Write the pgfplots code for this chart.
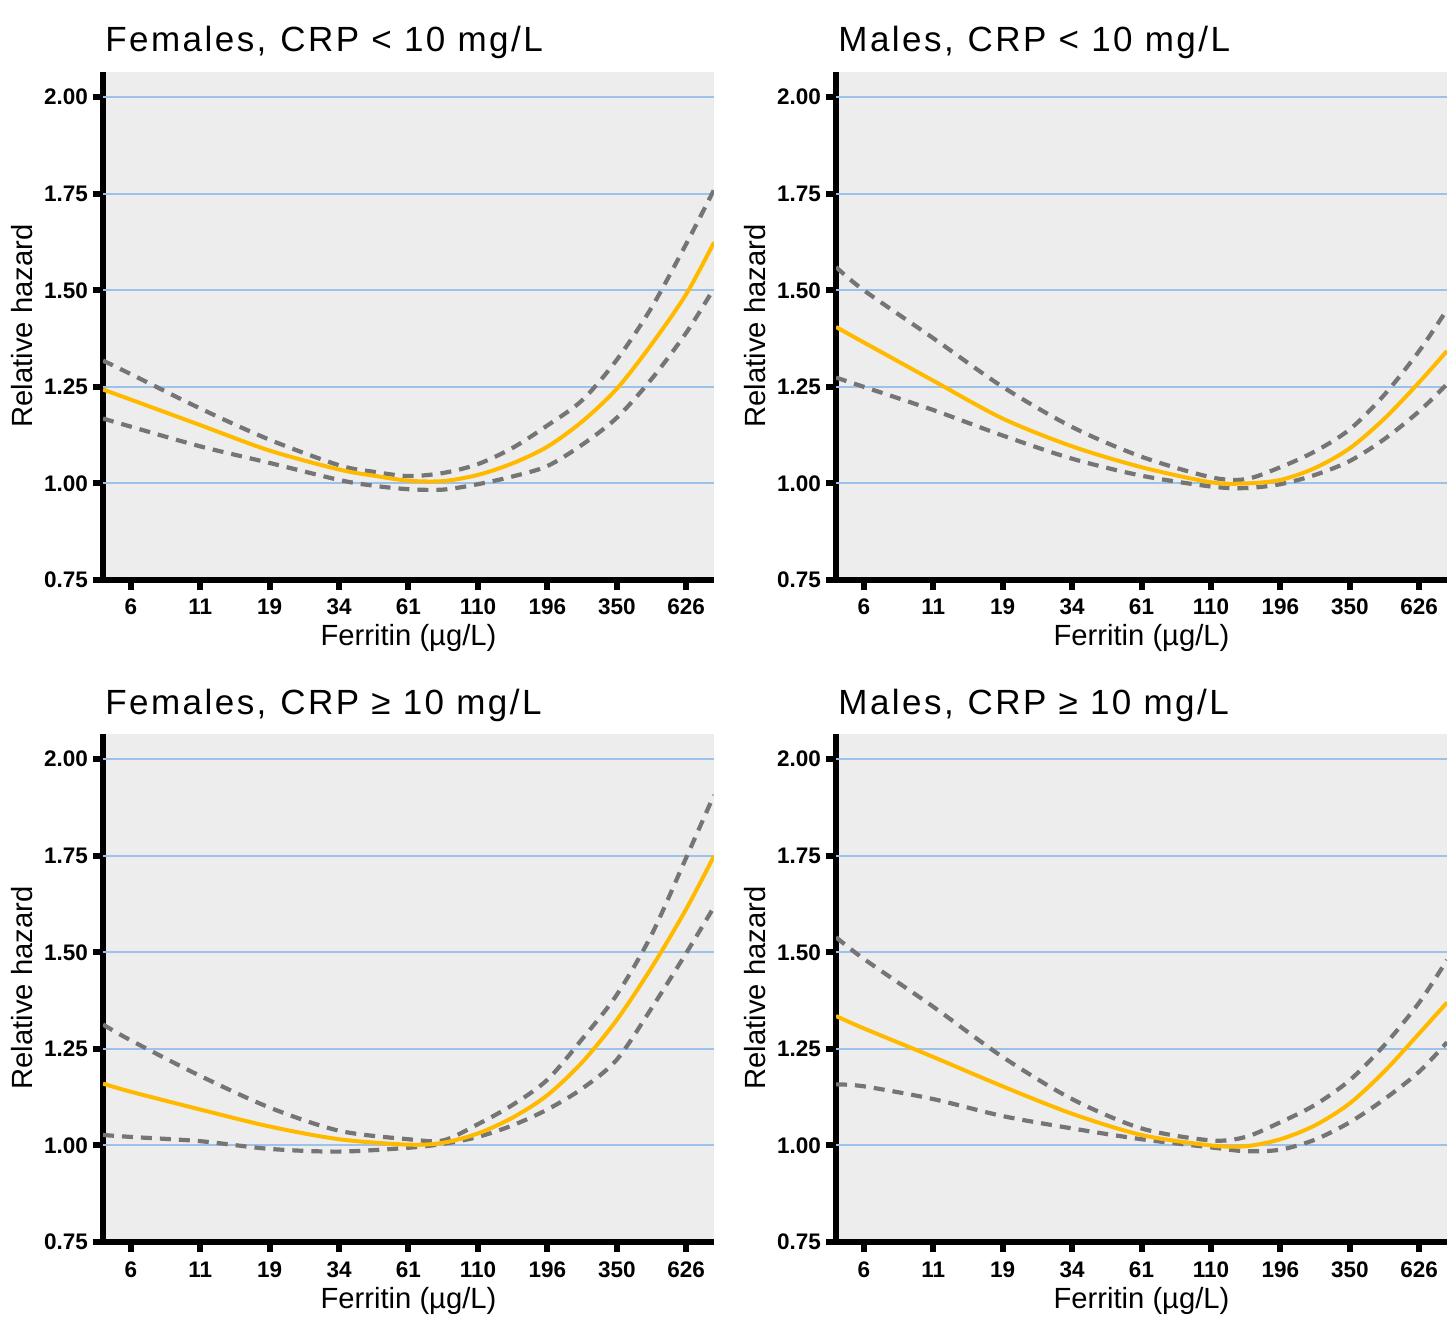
\documentclass[border=0pt]{standalone}
\usepackage{pgfplots}
\usepackage{pgfplotstable}
\pgfplotsset{compat=1.18}
\usepackage{fontspec}
\setmainfont{Liberation Sans}
\definecolor{bgcol}{HTML}{EDEDED}
\definecolor{gridblue}{HTML}{9DC2EA}
\definecolor{estcol}{HTML}{FFBA00}
\definecolor{cigray}{HTML}{757575}
\tikzset{gl/.style={draw=gridblue, line width=0.9pt}}

\pgfplotstableread{
x est up lo
-0.4 1.243 1.318 1.168
0 1.217 1.283 1.147
1 1.151 1.194 1.096
2 1.085 1.113 1.053
3 1.036 1.047 1.009
3.5 1.020 1.030 0.994
4 1.007 1.019 0.985
4.5 1.006 1.027 0.984
5 1.022 1.050 0.998
5.5 1.052 1.092 1.018
6 1.095 1.150 1.045
6.5 1.160 1.215 1.100
7 1.245 1.320 1.170
7.5 1.360 1.455 1.270
8 1.490 1.620 1.390
8.4 1.624 1.760 1.505
}\tabFL

\pgfplotstableread{
x est up lo
-0.4 1.405 1.560 1.274
0 1.365 1.500 1.250
1 1.266 1.376 1.190
2 1.168 1.250 1.124
3 1.096 1.146 1.064
4 1.042 1.069 1.020
5 1.003 1.016 0.992
5.5 1.000 1.011 0.988
6 1.009 1.042 0.998
6.5 1.040 1.083 1.022
7 1.091 1.140 1.058
7.5 1.168 1.230 1.115
8 1.262 1.343 1.187
8.4 1.343 1.450 1.257
}\tabML

\pgfplotstableread{
x est up lo
-0.4 1.160 1.313 1.027
0 1.139 1.272 1.022
1 1.093 1.180 1.011
2 1.049 1.098 0.991
3 1.016 1.038 0.984
4 1.002 1.016 0.994
4.5 1.007 1.013 1.004
5 1.031 1.055 1.022
5.5 1.072 1.105 1.052
6 1.130 1.170 1.093
6.5 1.215 1.275 1.147
7 1.325 1.390 1.222
7.5 1.460 1.545 1.355
8 1.612 1.745 1.498
8.4 1.749 1.907 1.617
}\tabFH

\pgfplotstableread{
x est up lo
-0.4 1.335 1.539 1.158
0 1.303 1.483 1.153
1 1.229 1.359 1.120
2 1.153 1.229 1.076
3 1.082 1.120 1.044
4 1.027 1.044 1.016
5 1.000 1.013 0.995
5.5 0.998 1.022 0.985
6 1.016 1.060 0.989
6.5 1.052 1.105 1.015
7 1.109 1.169 1.060
7.5 1.192 1.260 1.120
8 1.290 1.370 1.191
8.4 1.370 1.480 1.267
}\tabMH

\pgfplotsset{
  panel/.style={
    scale only axis,
    width=305.5pt, height=254pt,
    anchor=south west,
    xmin=-0.4, xmax=8.4,
    ymin=0.75, ymax=2.065,
    axis x line=bottom, axis y line=left,
    axis line style={-, line width=3pt, black},
    axis background/.style={fill=bgcol, draw=none},
    xtick={0,1,2,3,4,5,6,7,8},
    xticklabels={6,11,19,34,61,110,196,350,626},
    ytick={0.75,1,1.25,1.5,1.75,2},
    yticklabels={0.75,1.00,1.25,1.50,1.75,2.00},
    tick align=outside,
    major tick length=5pt,
    tick style={line width=3pt, black},
    ticklabel style={font=\fontsize{11.25}{13}\selectfont\bfseries},
    xticklabel style={anchor=base, yshift=-12.5pt},
    yticklabel style={anchor=east, xshift=1pt},
    xlabel={Ferritin (µg/L)},
    ylabel={Relative hazard},
    label style={font=\fontsize{14.6}{17}\selectfont},
    xlabel style={at={(axis description cs:0.5,0)}, anchor=base, yshift=-33pt},
    ylabel style={at={(axis description cs:0,0.5)}, anchor=center, yshift=40.5pt},
    title style={at={(axis description cs:0,1)}, anchor=base west, inner sep=0pt, yshift=4pt, xshift=1pt, font=\fontsize{17.5}{21}\selectfont\addfontfeatures{LetterSpace=7}},
    est/.style={draw=estcol, line width=2pt, smooth, no marks},
    ci/.style={draw=cigray, line width=2.1pt, smooth, no marks, dash pattern=on 5.5pt off 4pt},
  }
}

\begin{document}
\begin{tikzpicture}
\path[use as bounding box] (0,0) rectangle (728pt,-662.5pt);

\begin{axis}[panel, at={(51.5pt,-290pt)}, title={Females,\hspace{0.4em}CRP < 10 mg/L}]
\pgfplotsinvokeforeach{1.001,1.25,1.5,1.75,2}{\draw[gl] (axis cs:-0.4,#1) -- (axis cs:8.4,#1);}
\addplot[ci] table[x=x,y=up] {\tabFL};
\addplot[ci] table[x=x,y=lo] {\tabFL};
\addplot[est] table[x=x,y=est] {\tabFL};
\end{axis}

\begin{axis}[panel, at={(418pt,-290pt)}, title={Males,\hspace{0.4em}CRP < 10 mg/L}]
\pgfplotsinvokeforeach{1.001,1.25,1.5,1.75,2}{\draw[gl] (axis cs:-0.4,#1) -- (axis cs:8.4,#1);}
\addplot[ci] table[x=x,y=up] {\tabML};
\addplot[ci] table[x=x,y=lo] {\tabML};
\addplot[est] table[x=x,y=est] {\tabML};
\end{axis}

\begin{axis}[panel, at={(51.5pt,-621pt)}, title={Females,\hspace{0.4em}CRP ≥ 10 mg/L}]
\pgfplotsinvokeforeach{1.001,1.25,1.5,1.75,2}{\draw[gl] (axis cs:-0.4,#1) -- (axis cs:8.4,#1);}
\addplot[ci] table[x=x,y=up] {\tabFH};
\addplot[ci] table[x=x,y=lo] {\tabFH};
\addplot[est] table[x=x,y=est] {\tabFH};
\end{axis}

\begin{axis}[panel, at={(418pt,-621pt)}, title={Males,\hspace{0.4em}CRP ≥ 10 mg/L}]
\pgfplotsinvokeforeach{1.001,1.25,1.5,1.75,2}{\draw[gl] (axis cs:-0.4,#1) -- (axis cs:8.4,#1);}
\addplot[ci] table[x=x,y=up] {\tabMH};
\addplot[ci] table[x=x,y=lo] {\tabMH};
\addplot[est] table[x=x,y=est] {\tabMH};
\end{axis}
\end{tikzpicture}
\end{document}
